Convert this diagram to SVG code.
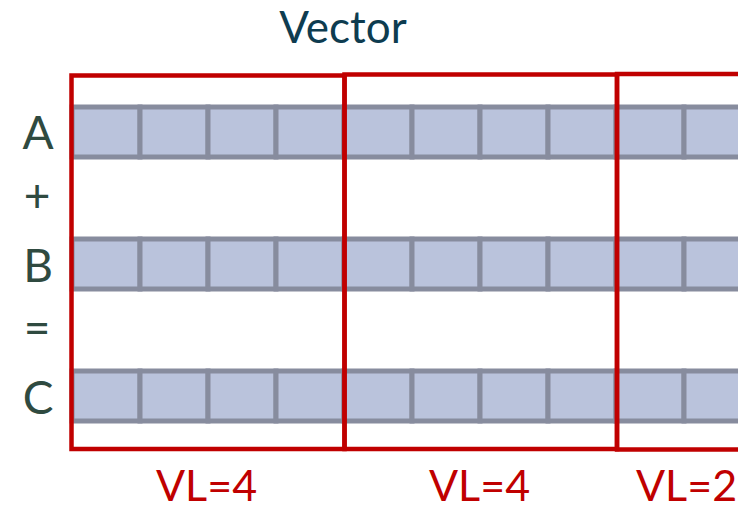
<svg xmlns="http://www.w3.org/2000/svg" width="738" height="506" viewBox="0 0 738 506">
  <defs>
    <style>
      .cell { fill: #bac3dc; stroke: #878c9e; stroke-width: 5; }
      .frame { fill: none; stroke: #c00000; stroke-width: 4.5; }
      .rowlbl { font-family: Lato, "Open Sans", sans-serif; font-size: 46px; fill: #2f4a40; text-anchor: middle; }
      .vl { font-family: Lato, "Open Sans", sans-serif; font-size: 43px; fill: #c00000; }
      .title { font-family: Lato, "Open Sans", sans-serif; font-size: 44px; fill: #0e3c50; text-anchor: middle; }
    </style>
    <!-- one row of ten element slots -->
    <g id="slots">
      <rect class="cell" x="72" y="0" width="68" height="50"/>
      <rect class="cell" x="140" y="0" width="68" height="50"/>
      <rect class="cell" x="208" y="0" width="68" height="50"/>
      <rect class="cell" x="276" y="0" width="68" height="50"/>
      <rect class="cell" x="344" y="0" width="68" height="50"/>
      <rect class="cell" x="412" y="0" width="68" height="50"/>
      <rect class="cell" x="480" y="0" width="68" height="50"/>
      <rect class="cell" x="548" y="0" width="68" height="50"/>
      <rect class="cell" x="616" y="0" width="68" height="50"/>
      <rect class="cell" x="684" y="0" width="68" height="50"/>
    </g>
  </defs>

  <rect width="738" height="506" fill="#ffffff"/>

  <g id="title">
    <text class="title" x="343" y="43">Vector</text>
  </g>

  <g id="labels">
    <text class="rowlbl" x="38" y="149">A</text>
    <text class="rowlbl" x="37" y="212">+</text>
    <text class="rowlbl" x="38" y="282">B</text>
    <text class="rowlbl" x="37" y="344">=</text>
    <text class="rowlbl" x="38" y="414">C</text>
  </g>

  <g id="row-A"><use href="#slots" y="107"/></g>
  <g id="row-B"><use href="#slots" y="239"/></g>
  <g id="row-C"><use href="#slots" y="371"/></g>

  <g id="strip-1">
    <rect class="frame" x="71.5" y="75.5" width="273" height="373.5"/>
    <text class="vl" x="156" y="501">VL=4</text>
  </g>
  <g id="strip-2">
    <rect class="frame" x="344.5" y="74.5" width="272.5" height="374.5"/>
    <text class="vl" x="429" y="501">VL=4</text>
  </g>
  <g id="strip-3">
    <rect class="frame" x="617" y="74" width="273" height="375.5"/>
    <text class="vl" x="636" y="501">VL=2</text>
  </g>
</svg>
